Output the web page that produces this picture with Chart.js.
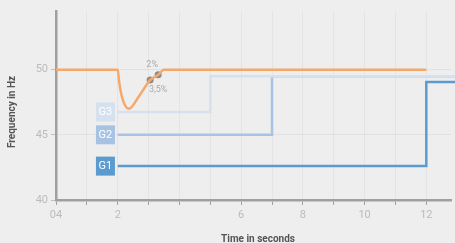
<!DOCTYPE html>
<html lang="en">
<head>
    <meta charset="UTF-8">
    <title>Frequency response</title>
    <style>
        body { margin: 0; background: #eeeeee; }
        #wrap { width: 455px; height: 243px; position: relative; }
    </style>
</head>
<body>
    <div id="wrap"><canvas id="chart" width="455" height="243"></canvas></div>

    <script src="https://cdn.jsdelivr.net/npm/chart.js"></script>
    <script>
        // x tick labels by second (the reference really shows "04" at zero)
        const xTickLabels = ["04", "", "2", "", "", "", "6", "", "8", "", "10", "", "12"];
        const yTickValues = [40, 45, 50];

        // frequency trace (orange)
        const freqX = [0, 2, 2.05, 2.15, 2.36, 2.7, 3.05, 3.31, 3.5, 12];
        const freqY = [50, 50, 49.0, 47.8, 47.0, 48.0, 49.2, 49.6, 50, 50];

        // marked points with their labels
        const markX = [3.05, 3.31];
        const markY = [49.2, 49.6];
        const markLabels = ["3,5%", "2%"];

        // generator steps
        const genNames = ["G1", "G2", "G3"];
        const genStartX = [2, 2, 2];
        const genStepX = [12, 7, 5];
        const genLowY = [42.6, 45, 46.75];
        const genHighY = [49.05, 49.5, 49.5];
        const genColors = ["#5b9bd0", "#a7c3e3", "#d6e1ef"];

        const xEnd = 12.8;
        const lineEnd = 13;

        const toPts = (xs, ys) => xs.map((x, i) => ({ x: x, y: ys[i] }));

        const genSets = genNames.map((n, i) => ({
            label: n,
            data: [
                { x: genStartX[i], y: genLowY[i] },
                { x: genStepX[i], y: genHighY[i] },
                { x: lineEnd, y: genHighY[i] }
            ],
            stepped: "before",
            borderColor: genColors[i],
            borderWidth: 2.5,
            pointRadius: 0,
            clip: { left: 0, top: 0, right: 10, bottom: 0 },
            fill: false
        })).reverse(); // G3 first, G1 last

        const overlay = {
            id: "overlay",
            afterDatasetsDraw(chart) {
                const ctx = chart.ctx;
                const xs = chart.scales.x, ys = chart.scales.y;
                // generator boxes
                genNames.forEach((n, i) => {
                    const right = xs.getPixelForValue(1.91);
                    const cy = ys.getPixelForValue(genLowY[i]);
                    ctx.fillStyle = genColors[i];
                    ctx.fillRect(right - 19, cy - 9.5, 19, 19);
                    ctx.fillStyle = "#ffffff";
                    ctx.font = "11px Roboto";
                    ctx.textAlign = "center";
                    ctx.textBaseline = "middle";
                    ctx.fillText(n, right - 9.5, cy + 0.5);
                });
                // point labels
                ctx.fillStyle = "#aaaaaa";
                ctx.font = "9px Roboto";
                ctx.textAlign = "center";
                ctx.fillText(markLabels[0], xs.getPixelForValue(markX[0]) + 8, ys.getPixelForValue(markY[0]) + 10);
                ctx.fillText(markLabels[1], xs.getPixelForValue(markX[1]) - 6, ys.getPixelForValue(markY[1]) - 10);
                // axis titles
                ctx.fillStyle = "#555555";
                ctx.font = "bold 10px Roboto";
                ctx.fillText("Time in seconds", 258, 239);
                ctx.save();
                ctx.translate(12, 112);
                ctx.rotate(-Math.PI / 2);
                ctx.fillText("Frequency in Hz", 0, 0);
                ctx.restore();
            }
        };

        new Chart(document.getElementById("chart"), {
            type: "line",
            data: {
                datasets: [
                    ...genSets,
                    {
                        label: "Frequency",
                        data: toPts(freqX, freqY),
                        borderColor: "#f6a86a",
                        borderWidth: 2.5,
                        pointRadius: 0,
                        cubicInterpolationMode: "monotone",
                        fill: false
                    },
                    {
                        label: "Marks",
                        data: toPts(markX, markY),
                        showLine: false,
                        pointRadius: 3.5,
                        pointBackgroundColor: "#8c8c8c",
                        pointBorderWidth: 0
                    }
                ]
            },
            options: {
                responsive: false,
                animation: false,
                layout: { padding: { top: 11, right: 0, left: 0, bottom: 0 } },
                plugins: { legend: { display: false }, tooltip: { enabled: false } },
                scales: {
                    x: {
                        type: "linear",
                        min: 0,
                        max: xEnd,
                        afterBuildTicks: (s) => { s.ticks = xTickLabels.map((t, i) => ({ value: i })); },
                        afterFit: (s) => { s.height = 43; s.paddingRight = 0; s.paddingLeft = 0; },
                        ticks: {
                            autoSkip: false,
                            maxRotation: 0,
                            color: "#bbbbbb",
                            font: { family: "Roboto", size: 11 },
                            padding: 4,
                            callback: (v) => xTickLabels[v]
                        },
                        grid: { color: "rgba(0,0,0,0.04)", tickColor: "#a0a0a0", tickLength: 5 },
                        border: { color: "#a0a0a0", width: 2.5 }
                    },
                    y: {
                        type: "linear",
                        min: 40,
                        max: 54.5,
                        afterBuildTicks: (s) => { s.ticks = yTickValues.map((v) => ({ value: v })); },
                        afterFit: (s) => { s.width = 56; s.paddingTop = 0; s.paddingBottom = 0; },
                        ticks: {
                            color: "#bbbbbb",
                            font: { family: "Roboto", size: 11 },
                            padding: 3
                        },
                        grid: { color: "rgba(0,0,0,0.05)", tickColor: "#c0c0c0", tickLength: 5 },
                        border: { color: "#a0a0a0", width: 2.5 }
                    }
                }
            },
            plugins: [overlay]
        });
    </script>
</body>
</html>
